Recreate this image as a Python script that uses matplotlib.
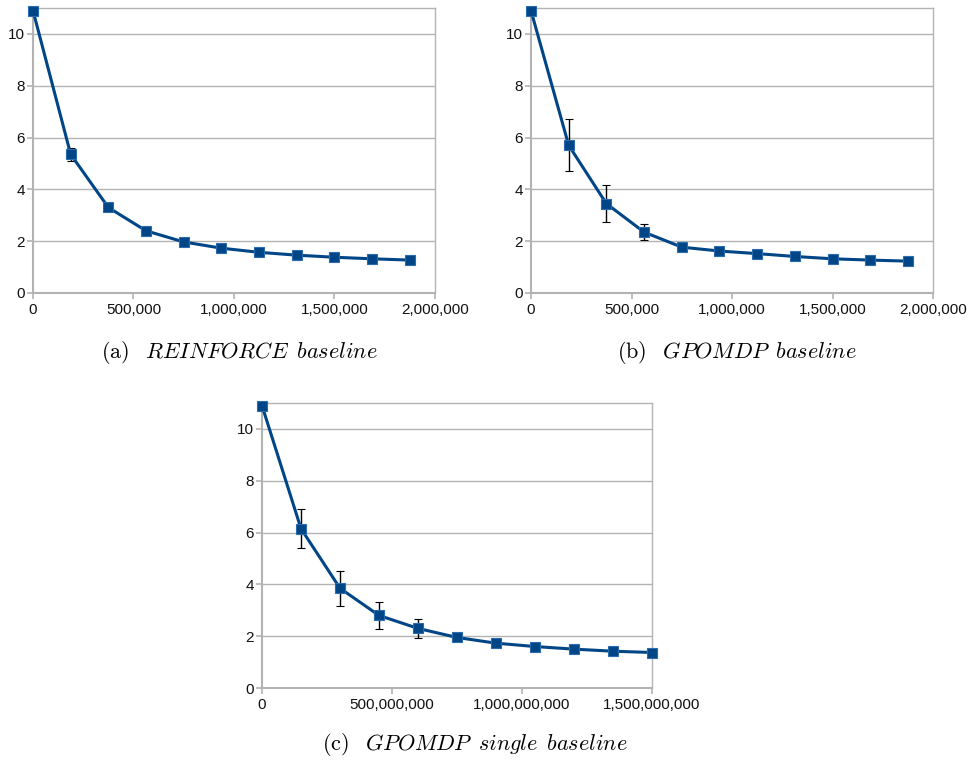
import numpy as np
import matplotlib
matplotlib.use("Agg")
import matplotlib.pyplot as plt
from matplotlib.ticker import FuncFormatter

plt.rcParams["font.family"] = ["Liberation Sans", "DejaVu Sans"]
plt.rcParams["mathtext.fontset"] = "cm"

# data
steps_a = [0, 187500, 375000, 562500, 750000, 937500, 1125000, 1312500, 1500000, 1687500, 1875000]
val_a = [10.9, 5.35, 3.3, 2.4, 1.97, 1.73, 1.57, 1.46, 1.38, 1.32, 1.27]
err_a = [0.03, 0.25, 0.12, 0.09, 0.07, 0.06, 0.06, 0.05, 0.05, 0.05, 0.05]

steps_b = [0, 187500, 375000, 562500, 750000, 937500, 1125000, 1312500, 1500000, 1687500, 1875000]
val_b = [10.9, 5.7, 3.45, 2.35, 1.77, 1.62, 1.52, 1.41, 1.32, 1.27, 1.23]
err_b = [0.03, 1.0, 0.72, 0.3, 0.1, 0.07, 0.06, 0.06, 0.05, 0.05, 0.05]

steps_c = [0, 150e6, 300e6, 450e6, 600e6, 750e6, 900e6, 1050e6, 1200e6, 1350e6, 1500e6]
val_c = [10.9, 6.15, 3.85, 2.8, 2.3, 1.95, 1.73, 1.6, 1.5, 1.42, 1.37]
err_c = [0.03, 0.75, 0.68, 0.52, 0.37, 0.1, 0.07, 0.06, 0.06, 0.06, 0.06]

SP = r"\ \,"
captions = [r"$\mathrm{(a)}\ \ \,\mathit{REINFORCE" + SP + r"baseline}$",
            r"$\mathrm{(b)}\ \ \,\mathit{GPOMDP" + SP + r"baseline}$",
            r"$\mathrm{(c)}\ \ \,\mathit{GPOMDP" + SP + r"single" + SP + r"baseline}$"]

W, H = 970, 764
fig = plt.figure(figsize=(W / 100, H / 100), dpi=100)

def box(x0, x1, y0, y1):
    return [x0 / W, 1 - y1 / H, (x1 - x0) / W, (y1 - y0) / H]

LINE = "#004586"
GRID = "#b3b3b3"

def panel(rect, x, y, e, xmax, xstep, cap, cap_xy):
    ax = fig.add_axes(rect)
    lines = ax.errorbar(x, y, yerr=e, color=LINE, lw=2.2, marker="s", ms=7.5,
                        mfc=LINE, mec="#2a6bb0", mew=0.8, ecolor="black",
                        elinewidth=1.0, capsize=3, capthick=1.0, zorder=3)
    for art in lines.get_children():
        art.set_clip_on(False)
    ax.set_xlim(0, xmax)
    ax.set_ylim(0, 11)
    ax.set_yticks(np.arange(0, 11, 2))
    ax.set_xticks(np.arange(0, xmax + 1, xstep))
    ax.xaxis.set_major_formatter(FuncFormatter(lambda v, p: f"{int(round(v)):,}"))
    ax.grid(axis="y", color=GRID, lw=1.0)
    ax.set_axisbelow(True)
    for s in ax.spines.values():
        s.set_color(GRID)
        s.set_linewidth(1.0)
    ax.spines["left"].set_linewidth(1.5)
    ax.spines["bottom"].set_linewidth(1.5)
    ax.tick_params(colors=GRID, labelcolor="#111111", labelsize=11,
                   length=4, width=1.2, direction="out", pad=2)
    ax.tick_params(axis="x", pad=3)
    fig.text(cap_xy[0] / W, 1 - cap_xy[1] / H, cap, ha="center", va="center",
             fontsize=16)
    return ax

panel(box(33, 435, 8, 293), steps_a, val_a, err_a, 2_000_000, 500_000,
      captions[0], (239, 352))
panel(box(531, 933, 8, 293), steps_b, val_b, err_b, 2_000_000, 500_000,
      captions[1], (737, 352))
panel(box(262, 652, 403, 688), steps_c, val_c, err_c, 1_500_000_000, 500_000_000,
      captions[2], (475, 745))

fig.savefig("out.png", dpi=100)
